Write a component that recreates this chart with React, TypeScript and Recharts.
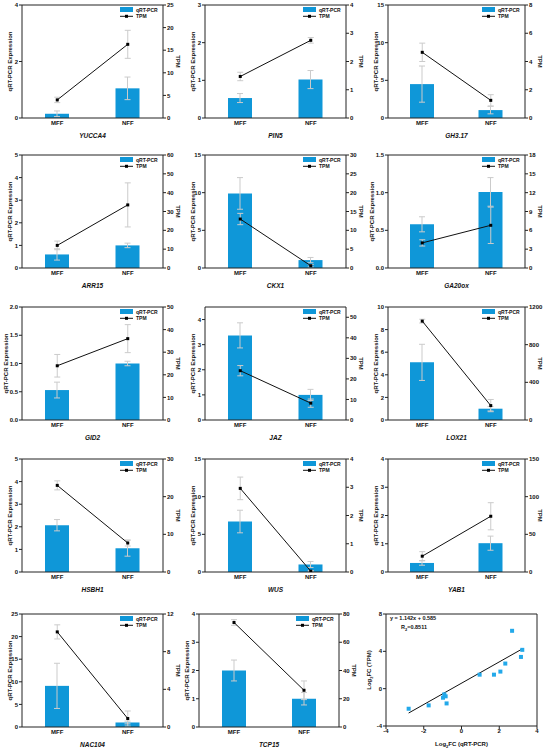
import {
  ComposedChart,
  Bar,
  Line,
  XAxis,
  YAxis,
  ErrorBar,
  ReferenceLine,
  ScatterChart,
  Scatter,
} from "recharts";

const FONT = "'Liberation Sans', Arial, sans-serif";
const BLUE = "#0f97d8";
const AXIS = "#222";
const ERR = "#cbcbcb";

const groups = ["MFF", "NFF"];

const genes = [
  "YUCCA4", "PIN5", "GH3.17",
  "ARR15", "CKX1", "GA20ox",
  "GID2", "JAZ", "LOX21",
  "HSBH1", "WUS", "YAB1",
  "NAC104", "TCP15",
];

// qRT-PCR relative expression [MFF, NFF]
const qpcrMean = [
  [0.15, 1.05], [0.53, 1.02], [4.5, 1.05],
  [0.6, 1.0], [9.9, 1.05], [0.58, 1.01],
  [0.53, 1.0], [3.37, 1.0], [5.1, 1.0],
  [2.07, 1.05], [6.7, 1.0], [0.32, 1.02],
  [9.1, 1.0], [2.0, 1.0],
];
const qpcrErr = [
  [0.1, 0.4], [0.12, 0.24], [2.4, 0.5],
  [0.25, 0.1], [2.1, 0.35], [0.1, 0.19],
  [0.14, 0.04], [0.5, 0.22], [1.6, 0.2],
  [0.25, 0.35], [1.5, 0.4], [0.08, 0.25],
  [5.0, 0.3], [0.37, 0.22],
];

// TPM [MFF, NFF]
const tpmMean = [
  [4, 16.3], [1.47, 2.75], [4.65, 1.25],
  [12, 33.5], [13, 0.6], [4, 6.8],
  [24, 36], [24, 8.2], [1050, 153],
  [23, 7.7], [2.96, 0.03], [21, 74],
  [10.1, 0.9], [74, 26],
];
const tpmErr = [
  [0.6, 3.1], [0.15, 0.1], [0.65, 0.4],
  [2.3, 11.7], [1.5, 0.3], [0.5, 2.9],
  [5, 6.2], [2.5, 2], [20, 65],
  [1.2, 0.8], [0.4, 0.02], [6, 18],
  [0.75, 0.8], [2, 6.6],
];

const qpcrTicks = [
  [0, 2, 4], [0, 1, 2, 3], [0, 5, 10, 15],
  [0, 1, 2, 3, 4, 5], [0, 5, 10, 15], [0, 0.5, 1, 1.5],
  [0, 0.5, 1, 1.5, 2], [0, 1, 2, 3, 4], [0, 2, 4, 6, 8, 10],
  [0, 1, 2, 3, 4, 5], [0, 5, 10, 15], [0, 1, 2, 3, 4],
  [0, 5, 10, 15, 20, 25], [0, 1, 2, 3, 4],
];
const qpcrMax = [4, 3, 15, 5, 15, 1.5, 2, 4.5, 10, 5, 15, 4, 25, 4];
const qpcrDigits = [0, 0, 0, 0, 0, 1, 1, 0, 0, 0, 0, 0, 0, 0];

const tpmTicks = [
  [0, 5, 10, 15, 20, 25], [0, 1, 2, 3, 4], [0, 2, 4, 6, 8],
  [0, 10, 20, 30, 40, 50, 60], [0, 5, 10, 15, 20, 25, 30], [0, 3, 6, 9, 12, 15, 18],
  [0, 10, 20, 30, 40, 50], [0, 10, 20, 30, 40, 50], [0, 400, 800, 1200],
  [0, 10, 20, 30], [0, 1, 2, 3, 4], [0, 50, 100, 150],
  [0, 4, 8, 12], [0, 20, 40, 60, 80],
];
const tpmMax = [25, 4, 8, 60, 30, 18, 50, 55, 1200, 30, 4, 150, 12, 80];

// correlation panel
const scatterX = [-2.8, -1.74, -0.98, -0.91, -0.84, -0.79, 0.96, 1.72, 2.06, 2.32, 2.68, 3.15, 3.22];
const scatterY = [-2.15, -1.79, -0.97, -0.61, -0.82, -1.58, 1.5, 1.5, 1.83, 2.69, 6.2, 3.4, 4.16];
const fitX = [-2.8, 3.22];
const fitY = [-2.61, 4.26];
const scatterXTicks = [-4, -2, 0, 2, 4];
const scatterYTicks = [-4, 0, 4, 8];

const rowTops = [0, 150, 302, 454, 609];
const colLefts = [0, 183, 366];

const tickStyle = { fontSize: 6, fontWeight: 700, fill: "#111", fontFamily: FONT };

const SquareDot = (props: any) => {
  const { cx, cy } = props;
  if (cx == null || cy == null) return <g />;
  return <rect x={cx - 1.5} y={cy - 1.5} width={3} height={3} fill="#000" />;
};

const leftTitle = (text: string, dx: number) => (props: any) => {
  const vb = props.viewBox || {};
  const cx = vb.x + dx;
  const cy = vb.y + vb.height / 2;
  return (
    <text
      x={cx}
      y={cy}
      transform={`rotate(-90 ${cx} ${cy})`}
      textAnchor="middle"
      dominantBaseline="central"
      style={{ fontSize: 6, fontWeight: 700, fontFamily: FONT, fill: "#111" }}
    >
      {text}
    </text>
  );
};

const rightTitle = (text: string) => (props: any) => {
  const vb = props.viewBox || {};
  const cx = vb.x + 15;
  const cy = vb.y + vb.height / 2;
  return (
    <text
      x={cx}
      y={cy}
      transform={`rotate(90 ${cx} ${cy})`}
      textAnchor="middle"
      dominantBaseline="central"
      style={{ fontSize: 6, fontWeight: 700, fontFamily: FONT, fill: "#111" }}
    >
      {text}
    </text>
  );
};

const geneTitle = (text: string) => (props: any) => {
  const vb = props.viewBox || {};
  return (
    <text
      x={vb.x + vb.width / 2}
      y={vb.y + 20}
      textAnchor="middle"
      style={{ fontSize: 6.5, fontWeight: 700, fontStyle: "italic", fontFamily: FONT, fill: "#111" }}
    >
      {text}
    </text>
  );
};

function GenePanel({ idx, left, top, width, rightW }: any) {
  const leftW = 22;
  const height = 150;
  const data = groups.map((g, j) => ({
    group: g,
    qpcr: qpcrMean[idx][j],
    qpcrErr: qpcrErr[idx][j],
    tpm: tpmMean[idx][j],
    tpmErr: tpmErr[idx][j],
  }));
  const plotRight = width - rightW;
  const lx = plotRight - 43;
  const ly = 7;

  return (
    <div style={{ position: "absolute", left, top, width, height }}>
      <ComposedChart
        width={width}
        height={height}
        data={data}
        margin={{ top: 5, right: 0, bottom: 0, left: 0 }}
      >
        <XAxis
          dataKey="group"
          height={32}
          axisLine={{ stroke: AXIS }}
          tickLine={false}
          tickSize={3}
          tickMargin={0}
          tick={tickStyle}
          label={{ content: geneTitle(genes[idx]) }}
        />
        <YAxis
          yAxisId="l"
          width={leftW}
          domain={[0, qpcrMax[idx]]}
          ticks={qpcrTicks[idx]}
          interval={0}
          allowDataOverflow
          tickSize={3}
          tickMargin={1}
          axisLine={{ stroke: AXIS }}
          tickLine={{ stroke: AXIS }}
          tick={tickStyle}
          tickFormatter={(v: number) => v.toFixed(qpcrDigits[idx])}
          label={{ content: leftTitle("qRT-PCR Expression", qpcrDigits[idx] ? 6 : 10) }}
        />
        <YAxis
          yAxisId="r"
          orientation="right"
          width={rightW}
          domain={[0, tpmMax[idx]]}
          ticks={tpmTicks[idx]}
          interval={0}
          allowDataOverflow
          tickSize={3}
          tickMargin={1}
          axisLine={{ stroke: AXIS }}
          tickLine={{ stroke: AXIS }}
          tick={tickStyle}
          label={{ content: rightTitle("TPM") }}
        />
        <ReferenceLine yAxisId="l" y={qpcrMax[idx]} stroke={AXIS} strokeWidth={1} />
        <Bar yAxisId="l" dataKey="qpcr" fill={BLUE} barSize={24} isAnimationActive={false}>
          <ErrorBar dataKey="qpcrErr" width={3} stroke={ERR} strokeWidth={1} isAnimationActive={false} />
        </Bar>
        <Line
          yAxisId="r"
          dataKey="tpm"
          stroke="#111"
          strokeWidth={1}
          dot={SquareDot}
          activeDot={false}
          isAnimationActive={false}
        >
          <ErrorBar dataKey="tpmErr" width={3} stroke={ERR} strokeWidth={1} isAnimationActive={false} />
        </Line>
      </ComposedChart>
      <svg
        width={width}
        height={30}
        style={{ position: "absolute", left: 0, top: 0, pointerEvents: "none" }}
      >
        <rect x={lx} y={ly} width={13} height={5} fill={BLUE} />
        <text x={lx + 16} y={ly + 4.8} style={{ fontSize: 5, fontWeight: 700, fontFamily: FONT, fill: "#111" }}>
          qRT-PCR
        </text>
        <line x1={lx} x2={lx + 13} y1={ly + 9.3} y2={ly + 9.3} stroke="#111" strokeWidth={1} />
        <rect x={lx + 5} y={ly + 7.8} width={3} height={3} fill="#000" />
        <text x={lx + 16} y={ly + 11.2} style={{ fontSize: 5, fontWeight: 700, fontFamily: FONT, fill: "#111" }}>
          TPM
        </text>
      </svg>
    </div>
  );
}

const ScatterSquare = (props: any) => {
  const { cx, cy } = props;
  if (cx == null || cy == null) return <g />;
  return <rect x={cx - 2} y={cy - 2} width={4} height={4} fill="#23a9ea" />;
};

const scatterYTitle = (props: any) => {
  const vb = props.viewBox || {};
  const cx = vb.x + 3;
  const cy = vb.y + vb.height / 2;
  return (
    <text
      x={cx}
      y={cy}
      transform={`rotate(-90 ${cx} ${cy})`}
      textAnchor="middle"
      dominantBaseline="central"
      style={{ fontSize: 6, fontWeight: 700, fontFamily: FONT, fill: "#111" }}
    >
      Log<tspan dy={1.5} fontSize={4}>2</tspan>
      <tspan dy={-1.5}>FC (TPM)</tspan>
    </text>
  );
};

const scatterXTitle = (props: any) => {
  const vb = props.viewBox || {};
  return (
    <text
      x={vb.x + vb.width / 2}
      y={vb.y + 20}
      textAnchor="middle"
      style={{ fontSize: 6, fontWeight: 700, fontFamily: FONT, fill: "#111" }}
    >
      Log<tspan dy={1.5} fontSize={4}>2</tspan>
      <tspan dy={-1.5}>FC (qRT-PCR)</tspan>
    </text>
  );
};

function CorrelationPanel() {
  const points = scatterX.map((x, i) => ({ x, y: scatterY[i] }));
  const fit = fitX.map((x, i) => ({ x, y: fitY[i] }));
  const left = 366;
  const top = 609;
  return (
    <div style={{ position: "absolute", left, top, width: 184, height: 142 }}>
      <ScatterChart width={184} height={142} margin={{ top: 5, right: 13, bottom: 0, left: 0 }}>
        <XAxis
          type="number"
          dataKey="x"
          domain={[-4, 4]}
          ticks={scatterXTicks}
          interval={0}
          allowDataOverflow
          height={25}
          tickSize={3}
          tickMargin={0}
          axisLine={{ stroke: AXIS }}
          tickLine={{ stroke: AXIS }}
          tick={tickStyle}
          label={{ content: scatterXTitle }}
        />
        <YAxis
          type="number"
          dataKey="y"
          domain={[-4, 8]}
          ticks={scatterYTicks}
          interval={0}
          allowDataOverflow
          width={20}
          tickSize={3}
          tickMargin={1}
          axisLine={{ stroke: AXIS }}
          tickLine={{ stroke: AXIS }}
          tick={tickStyle}
          label={{ content: scatterYTitle }}
        />
        <ReferenceLine y={8} stroke={AXIS} strokeWidth={1} />
        <ReferenceLine x={4} stroke={AXIS} strokeWidth={1} />
        <Scatter data={fit} line={{ stroke: "#111", strokeWidth: 1 }} shape={() => <g />} isAnimationActive={false} />
        <Scatter data={points} shape={ScatterSquare} isAnimationActive={false} />
      </ScatterChart>
      <svg width={184} height={30} style={{ position: "absolute", left: 0, top: 0, pointerEvents: "none" }}>
        <text x={24} y={11} style={{ fontSize: 5.5, fontWeight: 700, fontFamily: FONT, fill: "#111" }}>
          y = 1.142x + 0.585
        </text>
        <text x={35} y={20} style={{ fontSize: 5.5, fontWeight: 700, fontFamily: FONT, fill: "#111" }}>
          R<tspan dy={1.5} fontSize={4}>2</tspan>
          <tspan dy={-1.5}>=0.8511</tspan>
        </text>
      </svg>
    </div>
  );
}

export default function App() {
  return (
    <div
      style={{
        position: "absolute",
        left: 0,
        top: 0,
        width: 550,
        height: 751,
        overflow: "hidden",
        background: "#fff",
      }}
    >
      {genes.map((g, i) => {
        const row = Math.floor(i / 3);
        const col = i % 3;
        let left = colLefts[col];
        const width = col === 2 ? 184 : 183;
        let rightW = col === 2 ? 25 : 20;
        if (g === "TCP15") {
          left = 177;
          rightW = 21;
        }
        return (
          <GenePanel key={g} idx={i} left={left} top={rowTops[row]} width={width} rightW={rightW} />
        );
      })}
      <CorrelationPanel />
    </div>
  );
}
